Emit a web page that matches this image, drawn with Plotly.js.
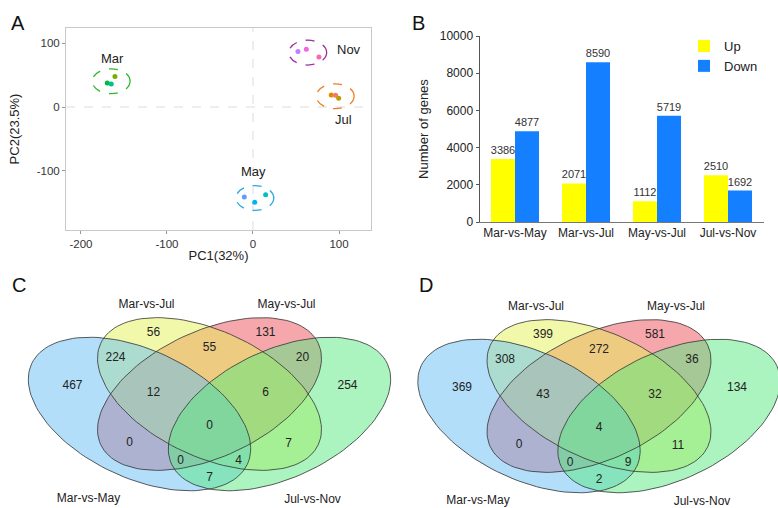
<!DOCTYPE html>
<html>
<head>
<meta charset="utf-8">
<script src="https://cdn.plot.ly/plotly-3.0.1.min.js"></script>
<style>
  html, body { margin: 0; padding: 0; background: #fff; }
  #chart { width: 778px; height: 508px; }
</style>
</head>
<body>
<div id="chart"></div>
<script>
// ---- panel A: PCA of the 12 samples ----
const pcaGroups = ['Jul', 'Jul', 'Jul', 'Mar', 'Mar', 'Mar', 'May', 'May', 'May', 'Nov', 'Nov', 'Nov'];
const pc1 = [91, 96, 99.6, -160.5, -169.4, -164.8, -10.1, 14.7, 2, 52.3, 62, 76.7];
const pc2 = [18.8, 18.4, 13.7, 47.7, 37.7, 36, -141.3, -137.5, -149.6, 87, 90.6, 78.5];
const groupNames = ['Mar', 'Nov', 'Jul', 'May'];
const pcTicksX = [-200, -100, 0, 100];
const pcTicksY = [-100, 0, 100];

// ---- panel B: DEG counts ----
const comparisons = ['Mar-vs-May', 'Mar-vs-Jul', 'May-vs-Jul', 'Jul-vs-Nov'];
const upGenes = [3386, 2071, 1112, 2510];
const downGenes = [4877, 8590, 5719, 1692];
const geneTicks = [0, 2000, 4000, 6000, 8000, 10000];

// ---- panels C, D: four-way Venn counts ----
const vennSets = ['Mar-vs-May', 'Mar-vs-Jul', 'May-vs-Jul', 'Jul-vs-Nov'];
const vennRegions = ['A', 'B', 'C', 'D', 'AB', 'AC', 'AD', 'BC', 'BD', 'CD', 'ABC', 'ABD', 'ACD', 'BCD', 'ABCD'];
const vennCountsC = [467, 56, 131, 254, 224, 0, 7, 55, 7, 20, 12, 4, 0, 6, 0];
const vennCountsD = [369, 399, 581, 134, 308, 0, 2, 272, 11, 36, 43, 9, 0, 32, 4];

// styles / layout helpers
const FONT = 'Arial, "Liberation Sans", sans-serif';
const sampleColors = ['#DE8C00', '#F8766D', '#B79F00', '#7CAE00', '#00BA38', '#00C08B',
                      '#619CFF', '#00BFC4', '#00B4F0', '#C77CFF', '#F564E3', '#FF64B0'];
const groupStyle = {
    Mar: {color: '#2eb82e', lab: [1, 36]},
    Nov: {color: '#9e2f9e', lab: [48, 5]},
    Jul: {color: '#ee7d22', lab: [10, -36]},
    May: {color: '#27a9e1', lab: [-2, 41]}
};
const ellR = [22, 19.5];

// venn geometry, in pixels relative to each diagram's axis of symmetry
// (one entry per set, same order as vennSets)
const vennEllipses = [
    {cx: -70, cy: 414, a: 119, b: 64, rot: 25, fill: 'rgba(101,189,245,0.5)'},
    {cx: 0, cy: 394, a: 120, b: 63, rot: 25, fill: 'rgba(229,241,85,0.5)'},
    {cx: 0, cy: 394, a: 120, b: 63, rot: -25, fill: 'rgba(235,80,90,0.5)'},
    {cx: 70, cy: 414, a: 119, b: 64, rot: -25, fill: 'rgba(88,232,128,0.5)'}
];
const fillOrder = [2, 1, 0, 3];   // red at the bottom, green on top
const regionPos = {
    A: [-137, 386], B: [-56, 333], C: [56, 333], D: [138, 386],
    AB: [-94, 358], AC: [-80, 443], AD: [0, 478], BC: [0, 348], BD: [79, 444], CD: [93, 358],
    ABC: [-56, 393], ABD: [29, 461], ACD: [-29, 461], BCD: [56, 393], ABCD: [0, 426]
};
const setLabelPos = [[-121, 499], [-63, 305], [77, 305], [103, 500]];
const vennPanels = [{x0: 209.5, y0: 0, counts: vennCountsC}, {x0: 599, y0: 2, counts: vennCountsD}];

function mean(arr) {
    return arr.reduce((s, v) => s + v, 0) / arr.length;
}

function ellipsePoints(e, x0, y0) {
    const xs = [], ys = [];
    const r = e.rot * Math.PI / 180;
    for (let i = 0; i <= 120; i++) {
        const t = 2 * Math.PI * i / 120;
        xs.push(x0 + e.cx + e.a * Math.cos(t) * Math.cos(r) - e.b * Math.sin(t) * Math.sin(r));
        ys.push(y0 + e.cy + e.a * Math.cos(t) * Math.sin(r) + e.b * Math.sin(t) * Math.cos(r));
    }
    return {xs, ys};
}

const traces = [];
const shapes = [];
const annotations = [];

// PCA points
traces.push({
    x: pc1, y: pc2, xaxis: 'x', yaxis: 'y',
    type: 'scatter', mode: 'markers',
    marker: {size: 5, color: sampleColors},
    showlegend: false, hoverinfo: 'x+y'
});

// group ellipses + labels
groupNames.forEach(g => {
    const idx = pcaGroups.map((v, i) => v === g ? i : -1).filter(i => i >= 0);
    const cx = mean(idx.map(i => pc1[i]));
    const cy = mean(idx.map(i => pc2[i]));
    const st = groupStyle[g];
    shapes.push({
        type: 'circle', xref: 'x', yref: 'y',
        x0: cx - ellR[0], x1: cx + ellR[0], y0: cy - ellR[1], y1: cy + ellR[1],
        line: {color: st.color, width: 1.3, dash: 'dash'}
    });
    annotations.push({
        x: cx + st.lab[0], y: cy + st.lab[1], xref: 'x', yref: 'y',
        text: g, showarrow: false, font: {size: 13, color: '#222'}
    });
});

// dashed zero lines
shapes.push({type: 'line', xref: 'x', yref: 'y domain', x0: 0, x1: 0, y0: 0, y1: 1,
             line: {color: '#dddddd', width: 1, dash: 'dash'}, layer: 'below'});
shapes.push({type: 'line', xref: 'x domain', yref: 'y', x0: 0, x1: 1, y0: 0, y1: 0,
             line: {color: '#dddddd', width: 1, dash: 'dash'}, layer: 'below'});

// bars
traces.push({
    x: comparisons, y: upGenes, name: 'Up', type: 'bar', xaxis: 'x2', yaxis: 'y2',
    marker: {color: '#ffff00'}, text: upGenes.map(String), textposition: 'outside',
    constraintext: 'none', cliponaxis: false, textfont: {size: 11, color: '#333'}
});
traces.push({
    x: comparisons, y: downGenes, name: 'Down', type: 'bar', xaxis: 'x2', yaxis: 'y2',
    marker: {color: '#1580ff'}, text: downGenes.map(String), textposition: 'outside',
    constraintext: 'none', cliponaxis: false, textfont: {size: 11, color: '#333'}
});

// venn diagrams: fills first, then all outlines on top, then the counts
vennPanels.forEach(p => {
    const pts = vennEllipses.map(e => ellipsePoints(e, p.x0, p.y0));
    fillOrder.forEach(k => {
        traces.push({
            x: pts[k].xs, y: pts[k].ys, xaxis: 'x3', yaxis: 'y3',
            type: 'scatter', mode: 'none', fill: 'toself', fillcolor: vennEllipses[k].fill,
            showlegend: false, hoverinfo: 'skip'
        });
    });
    pts.forEach(pt => {
        traces.push({
            x: pt.xs, y: pt.ys, xaxis: 'x3', yaxis: 'y3',
            type: 'scatter', mode: 'lines', line: {color: '#333', width: 0.8},
            showlegend: false, hoverinfo: 'skip'
        });
    });
    traces.push({
        x: vennRegions.map(r => p.x0 + regionPos[r][0]),
        y: vennRegions.map(r => p.y0 + regionPos[r][1]),
        text: p.counts.map(String), xaxis: 'x3', yaxis: 'y3',
        type: 'scatter', mode: 'text', textfont: {size: 12, color: '#222'},
        showlegend: false, hoverinfo: 'skip', cliponaxis: false
    });
    traces.push({
        x: setLabelPos.map(s => p.x0 + s[0]),
        y: setLabelPos.map(s => p.y0 + s[1]),
        text: vennSets, xaxis: 'x3', yaxis: 'y3',
        type: 'scatter', mode: 'text', textfont: {size: 12, color: '#222'},
        showlegend: false, hoverinfo: 'skip', cliponaxis: false
    });
});

// panel letters
[['A', 9, 10], ['B', 418, 10], ['C', 10, 285], ['D', 426, 285]].forEach(l => {
    annotations.push({
        text: l[0], xref: 'paper', yref: 'paper', x: l[1] / 778, y: 1 - l[2] / 508,
        showarrow: false, font: {size: 20, color: '#111'}
    });
});

const layout = {
    width: 778, height: 508,
    margin: {l: 0, r: 0, t: 0, b: 0},
    paper_bgcolor: '#fff', plot_bgcolor: 'rgba(0,0,0,0)',
    font: {family: FONT, size: 12, color: '#222'},
    legend: {x: 684 / 778, y: 1 - 31 / 508, xanchor: 'left', yanchor: 'top',
             font: {size: 13, color: '#222'}, bgcolor: 'rgba(0,0,0,0)', itemwidth: 30},
    barmode: 'group', bargap: 0.324, bargroupgap: 0,
    xaxis: {
        domain: [66 / 778, 371 / 778], anchor: 'y', range: [-217.4, 137.2],
        tickvals: pcTicksX, ticktext: pcTicksX.map(String), tickfont: {size: 11.5, color: '#333'},
        ticks: 'outside', ticklen: 3, tickcolor: '#999',
        showline: true, mirror: true, linecolor: '#c8c8c8', linewidth: 1,
        showgrid: false, zeroline: false,
        title: {text: 'PC1(32%)', font: {size: 13}, standoff: 2}
    },
    yaxis: {
        domain: [1 - 230 / 508, 1 - 28 / 508], anchor: 'x', range: [-193, 124],
        tickvals: pcTicksY, ticktext: pcTicksY.map(String), tickfont: {size: 11.5, color: '#333'},
        ticks: 'outside', ticklen: 3, tickcolor: '#999',
        showline: true, mirror: true, linecolor: '#c8c8c8', linewidth: 1,
        showgrid: false, zeroline: false,
        title: {text: 'PC2(23.5%)', font: {size: 13}, standoff: 14}
    },
    xaxis2: {
        domain: [479.5 / 778, 763.5 / 778], anchor: 'y2', type: 'category', range: [-0.5, 3.5],
        showline: true, linecolor: '#777', linewidth: 1, ticks: '',
        tickfont: {size: 12, color: '#222'}, showgrid: false, zeroline: false
    },
    yaxis2: {
        domain: [1 - 222 / 508, 1 - 36 / 508], anchor: 'x2', range: [0, 10000],
        tickvals: geneTicks, ticktext: geneTicks.map(String),
        ticks: 'outside', ticklen: 3, tickcolor: '#555', showline: true, linecolor: '#555',
        tickfont: {size: 12, color: '#222'}, showgrid: false, zeroline: false,
        title: {text: 'Number of genes', font: {size: 13}, standoff: 8}
    },
    xaxis3: {domain: [0, 1], anchor: 'y3', range: [0, 778], visible: false},
    yaxis3: {domain: [0, 1 - 285 / 508], anchor: 'x3', range: [508, 285], visible: false},
    shapes: shapes,
    annotations: annotations
};

Plotly.newPlot('chart', traces, layout, {displayModeBar: false, staticPlot: true});
</script>
</body>
</html>
